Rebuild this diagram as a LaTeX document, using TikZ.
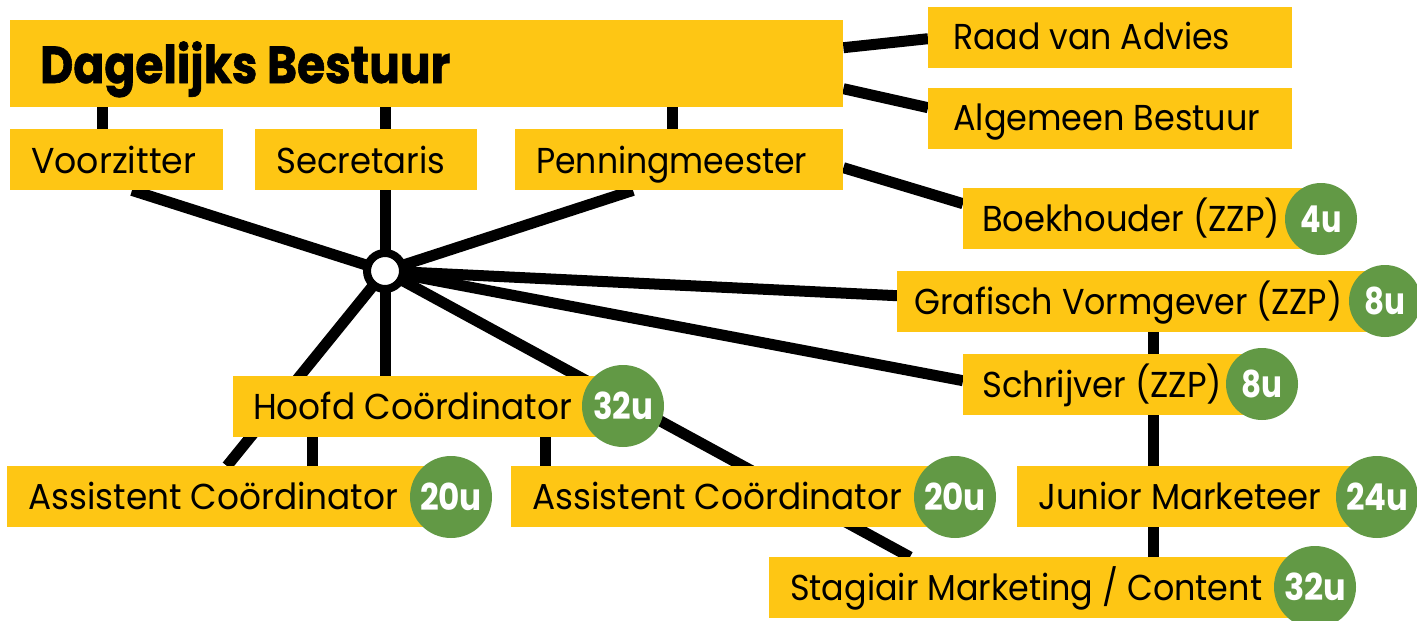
\documentclass[tikz,border=0pt]{standalone}
\usepackage{fontspec}
\setmainfont{Poppins}
\usetikzlibrary{calc}
\definecolor{ybox}{RGB}{254,198,20}
\definecolor{gbadge}{RGB}{98,153,69}
\pgfdeclarelayer{bg}
\pgfsetlayers{bg,main}
\newsavebox\fitbox
\newlength\fitlen
\newcommand\fitw[2]{\sbox\fitbox{#2}\setlength\fitlen{\wd\fitbox}\pgfmathsetmacro\fitsx{#1/\fitlen}\scalebox{\fitsx}[1]{\usebox\fitbox}}
\begin{document}
\begin{tikzpicture}[x=1pt,y=-1pt,
  box/.style={fill=ybox, draw=none, inner sep=0pt, anchor=north west},
  lbl/.style={inner sep=0pt, anchor=base west, font=\fontsize{36}{40}\selectfont},
  ttl/.style={inner sep=0pt, anchor=base west, font=\fontsize{52}{56}\selectfont\bfseries\addfontfeature{FakeBold=1.2}},
  badge/.style={circle, fill=gbadge, inner sep=0pt, text=white, font=\fontsize{37}{40}\selectfont\bfseries},
  conn/.style={line width=11pt, black},
  hubst/.style={circle, draw=black, line width=8pt, fill=white, minimum size=36pt, inner sep=0pt},
]
\useasboundingbox (0,0) rectangle (1417,621);
% boxes
\node[box, minimum width=833, minimum height=87] (db) at (10,20) {};
\node[box, minimum width=213, minimum height=61] (voor) at (10,129) {};
\node[box, minimum width=222, minimum height=61] (sec) at (255,129) {};
\node[box, minimum width=328, minimum height=61] (pen) at (515,129) {};
\node[box, minimum width=364, minimum height=61] (raad) at (928,7) {};
\node[box, minimum width=364, minimum height=61] (alg) at (928,88) {};
\node[box, minimum width=358, minimum height=61] (boek) at (963,188) {};
\node[box, minimum width=488, minimum height=61] (graf) at (897,271) {};
\node[box, minimum width=299, minimum height=61] (schr) at (963,354) {};
\node[box, minimum width=390, minimum height=61] (hoofd) at (233,376) {};
\node[box, minimum width=444, minimum height=61] (as1) at (7,466) {};
\node[box, minimum width=444, minimum height=61] (as2) at (511,466) {};
\node[box, minimum width=360, minimum height=61] (jun) at (1017,466) {};
\node[box, minimum width=546, minimum height=61] (stag) at (769,557) {};
% hub
\node[hubst] (hub) at (385,271) {};
% labels
\node[ttl] (dbT) at (40,83) {\fitw{410}{Dagelijks Bestuur}};
\node[lbl] (voorT) at (31,173) {\fitw{165}{Voorzitter}};
\node[lbl] (secT) at (276,173) {\fitw{169}{Secretaris}};
\node[lbl] (penT) at (536,173) {\fitw{271}{Penningmeester}};
\node[lbl] (raadT) at (953,49) {\fitw{277}{Raad van Advies}};
\node[lbl] (algT) at (953,130) {\fitw{307}{Algemeen Bestuur}};
\node[lbl] (boekT) at (982,231) {\fitw{298}{Boekhouder (ZZP)}};
\node[lbl] (grafT) at (914,314) {\fitw{428}{Grafisch Vormgever (ZZP)}};
\node[lbl] (schrT) at (982,397) {\fitw{240}{Schrijver (ZZP)}};
\node[lbl] (hoofdT) at (253,419) {\fitw{319}{Hoofd Coördinator}};
\node[lbl] (as1T) at (28,509) {\fitw{370}{Assistent Coördinator}};
\node[lbl] (as2T) at (532,509) {\fitw{370}{Assistent Coördinator}};
\node[lbl] (junT) at (1038,509) {\fitw{283}{Junior Marketeer}};
\node[lbl] (stagT) at (790,600) {\fitw{472}{Stagiair Marketing / Content}};
% badges
\node[badge, minimum size=72] (boekB) at (1321,219) {\fitw{41}{4u}};
\node[badge, minimum size=72] (grafB) at (1385,301) {\fitw{41}{8u}};
\node[badge, minimum size=72] (schrB) at (1262,384) {\fitw{41}{8u}};
\node[badge, minimum size=82] (hoofdB) at (623,406) {\fitw{60}{32u}};
\node[badge, minimum size=82] (as1B) at (451,497) {\fitw{62}{20u}};
\node[badge, minimum size=82] (as2B) at (955,497) {\fitw{62}{20u}};
\node[badge, minimum size=82] (junB) at (1377,497) {\fitw{62}{24u}};
\node[badge, minimum size=82] (stagB) at (1315,587) {\fitw{62}{32u}};
% connectors
\begin{pgfonlayer}{bg}
\draw[conn] ([xshift=92pt]voor.north west) -- ([xshift=92pt]voor.north west |- db.south);
\draw[conn] (sec.north -| hub.center) -- (db.south -| hub.center);
\draw[conn] ([xshift=157pt]pen.north west) -- ([xshift=157pt]pen.north west |- db.south);
\draw[conn] ([yshift=16pt]db.east) -- ([yshift=-1pt]raad.west);
\draw[conn] ([yshift=-25pt]db.east) -- ([yshift=11pt]alg.west);
\draw[conn] ([yshift=-8pt]pen.east) -- ([yshift=15pt]boek.west);
\draw[conn] ([xshift=122pt]voor.south west) -- (hub.center);
\draw[conn] (sec.south -| hub.center) -- (hub.center);
\draw[conn] ([xshift=118pt]pen.south west) -- (hub.center);
\draw[conn] (hub.center) -- ([yshift=6pt]graf.west);
\draw[conn] (hub.center) -- ([yshift=4pt]schr.west);
\draw[conn] (hub.center) -- (hub.center |- hoofd.north);
\draw[conn] (hub.center) -- ([xshift=220pt]as1.north west);
\draw[conn] (hub.center) -- ([xshift=141pt]stag.north west);
\draw[conn] ([xshift=79pt]hoofd.south west) -- ([xshift=79pt]hoofd.south west |- as1.north);
\draw[conn] ([xshift=312pt]hoofd.south west) -- ([xshift=312pt]hoofd.south west |- as2.north);
\draw[conn] ([xshift=256pt]graf.south west) -- ([xshift=256pt]graf.south west |- schr.north);
\draw[conn] ([xshift=256pt]graf.south west |- schr.south) -- ([xshift=256pt]graf.south west |- jun.north);
\draw[conn] ([xshift=256pt]graf.south west |- jun.south) -- ([xshift=256pt]graf.south west |- stag.north);
\end{pgfonlayer}
\end{tikzpicture}
\end{document}
